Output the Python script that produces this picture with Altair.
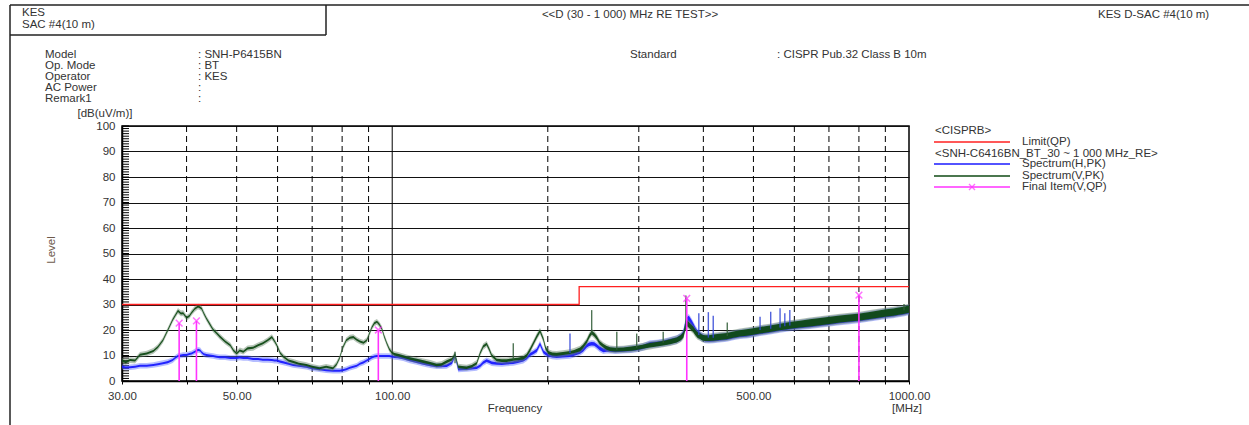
import altair as alt
import pandas as pd

# ---------------------------------------------------------------------------
# Measured data
# ---------------------------------------------------------------------------
# Sweep frequencies (MHz) with the peak trace centre for each antenna
# polarisation and the half-width of the trace noise band (dB).
FREQ_MHZ = [
    30.0, 30.5, 31.1, 31.8, 32.5, 33.5, 34.5, 35.2, 36.0, 36.8,
    37.6, 38.1, 38.5, 39.0, 39.4, 40.0, 40.5, 40.9, 41.5, 42.1,
    42.5, 42.8, 43.2, 43.7, 44.3, 45.0, 45.7, 46.4, 47.5, 48.6,
    49.3, 50.0, 50.7, 51.5, 52.5, 53.8, 55.0, 56.2, 57.4, 58.5,
    59.2, 59.8, 60.7, 61.6, 63.0, 64.3, 66.0, 68.2, 70.0, 72.3,
    74.5, 76.8, 78.0, 79.1, 80.2, 81.5, 82.8, 84.1, 85.4, 86.6,
    88.0, 89.3, 90.3, 91.3, 92.3, 93.4, 94.4, 95.5, 96.5, 97.6,
    98.7, 99.8, 101.0, 102.6, 105.0, 108.2, 111.5, 114.9, 118.5, 121.9,
    124.5, 127.5, 130.5, 132.3, 134.2, 136.5, 139.3, 142.5, 145.7, 148.0,
    150.0, 152.3, 154.0, 155.8, 159.3, 163.0, 166.5, 171.5, 175.0, 179.3,
    182.0, 184.8, 187.8, 190.4, 193.2, 196.1, 198.0, 200.5, 204.0, 208.1,
    214.0, 220.8, 225.0, 230.9, 234.0, 237.9, 240.5, 243.2, 246.0, 248.7,
    252.0, 256.1, 260.0, 263.9, 270.0, 280.0, 290.0, 297.2, 305.0, 315.3,
    325.0, 334.5, 345.0, 355.2, 362.0, 365.8, 369.0, 372.0, 375.0, 379.0,
    382.5, 386.0, 390.0, 394.1, 398.0, 403.0, 410.0, 418.3, 430.0, 444.0,
    457.0, 470.9, 485.0, 499.7, 514.8, 538.3, 562.8, 588.5, 615.3, 643.0,
    672.7, 703.0, 735.4, 768.0, 803.8, 840.0, 878.7, 905.0, 932.5, 955.0,
    974.8, 1000.0,
]
V_PK = [
    8.0, 7.4, 8.2, 8.0, 10.3, 10.8, 11.8, 13.3, 16.0, 20.0,
    24.0, 26.0, 27.5, 26.5, 26.6, 24.8, 25.5, 26.8, 28.3, 29.2,
    28.8, 28.3, 26.5, 24.5, 22.5, 20.2, 18.8, 17.4, 15.5, 14.0,
    12.0, 10.8, 12.0, 11.5, 12.8, 13.0, 14.0, 14.8, 16.0, 17.2,
    15.6, 14.0, 11.0, 9.5, 8.0, 7.5, 6.8, 6.3, 5.6, 5.0,
    5.6, 5.0, 6.5, 9.0, 13.0, 16.0, 17.0, 17.2, 16.2, 15.5,
    15.0, 16.0, 18.5, 21.0, 22.6, 23.2, 22.2, 20.5, 17.5, 14.8,
    12.5, 11.2, 10.5, 10.2, 9.6, 8.8, 8.2, 7.6, 7.0, 6.3,
    6.5, 7.6, 8.5, 10.5, 5.6, 5.4, 5.2, 5.8, 7.0, 11.0,
    13.5, 14.5, 12.5, 10.0, 8.2, 8.0, 8.0, 8.4, 8.6, 9.0,
    10.0, 12.2, 15.0, 17.4, 19.6, 16.4, 13.0, 11.2, 10.6, 10.5,
    10.8, 11.2, 11.6, 12.4, 13.5, 15.5, 17.5, 19.0, 18.2, 17.0,
    15.0, 13.8, 13.0, 12.5, 12.3, 12.4, 12.7, 13.0, 13.4, 14.0,
    14.4, 14.8, 15.4, 16.1, 17.0, 18.0, 21.0, 22.6, 22.0, 21.0,
    20.2, 19.0, 18.0, 17.6, 17.0, 16.8, 16.8, 17.0, 17.3, 17.6,
    18.2, 18.7, 19.0, 19.4, 19.9, 20.5, 21.2, 21.8, 22.3, 22.8,
    23.3, 23.8, 24.3, 24.7, 25.1, 25.7, 26.3, 26.7, 27.0, 27.4,
    27.7, 28.2,
]
H_PK = [
    5.6, 5.3, 5.4, 5.6, 6.0, 6.0, 6.3, 6.6, 7.0, 7.4,
    8.2, 9.2, 9.8, 10.0, 10.2, 10.2, 10.6, 10.8, 11.5, 12.2,
    12.0, 11.2, 10.5, 10.2, 10.0, 9.8, 9.5, 9.3, 9.3, 9.0,
    9.0, 9.0, 9.2, 9.0, 9.0, 8.6, 8.6, 8.3, 8.3, 8.2,
    8.0, 8.0, 7.6, 7.3, 6.8, 6.3, 6.0, 5.6, 5.0, 4.6,
    4.2, 4.0, 4.0, 4.0, 4.2, 4.6, 5.2, 5.6, 6.0, 6.8,
    7.3, 8.0, 8.6, 9.2, 9.6, 9.8, 9.8, 9.8, 9.8, 9.8,
    9.8, 9.6, 9.5, 9.4, 9.0, 8.2, 7.6, 6.9, 6.3, 5.9,
    5.9, 6.0, 7.2, 10.0, 4.6, 4.7, 4.8, 5.0, 5.2, 6.0,
    7.2, 8.0, 7.6, 7.1, 6.9, 6.8, 7.0, 7.2, 7.6, 8.2,
    9.0, 10.4, 11.2, 12.0, 14.5, 11.5, 10.8, 10.2, 9.8, 9.6,
    9.8, 10.0, 10.5, 11.4, 12.2, 13.8, 14.4, 14.6, 14.5, 13.8,
    12.8, 12.0, 12.2, 12.2, 12.0, 12.2, 12.5, 12.8, 13.3, 14.4,
    14.6, 15.0, 15.6, 16.2, 17.2, 18.5, 22.0, 24.0, 24.5, 23.0,
    21.5, 20.0, 18.6, 17.8, 17.2, 16.6, 16.5, 16.7, 17.0, 17.3,
    17.9, 18.4, 18.7, 19.1, 19.6, 20.2, 20.9, 21.5, 22.0, 22.5,
    23.0, 23.5, 24.0, 24.4, 24.8, 25.4, 26.0, 26.4, 26.7, 27.1,
    27.4, 27.9,
]
NOISE_DB = [
    0.4, 0.4, 0.4, 0.4, 0.4, 0.4, 0.4, 0.4, 0.4, 0.4,
    0.4, 0.4, 0.4, 0.4, 0.4, 0.4, 0.4, 0.4, 0.4, 0.4,
    0.4, 0.4, 0.4, 0.4, 0.4, 0.4, 0.4, 0.4, 0.4, 0.4,
    0.4, 0.4, 0.4, 0.4, 0.4, 0.4, 0.4, 0.4, 0.4, 0.4,
    0.4, 0.4, 0.4, 0.4, 0.4, 0.4, 0.4, 0.4, 0.4, 0.4,
    0.4, 0.4, 0.4, 0.4, 0.4, 0.4, 0.4, 0.4, 0.4, 0.4,
    0.4, 0.4, 0.4, 0.4, 0.4, 0.4, 0.4, 0.4, 0.4, 0.4,
    0.4, 0.4, 0.5, 0.5, 0.5, 0.5, 0.5, 0.5, 0.5, 0.5,
    0.5, 0.5, 0.5, 0.5, 0.5, 0.5, 0.5, 0.5, 0.5, 0.5,
    0.5, 0.5, 0.5, 0.5, 0.5, 0.5, 0.5, 0.5, 0.5, 0.6,
    0.6, 0.6, 0.6, 0.6, 0.6, 0.6, 0.6, 0.6, 0.6, 0.6,
    0.6, 0.6, 0.6, 0.7, 0.7, 0.7, 0.7, 0.7, 0.7, 0.7,
    0.7, 0.7, 0.7, 0.7, 0.7, 0.7, 0.8, 0.8, 0.8, 0.9,
    0.9, 0.9, 1.0, 1.0, 1.0, 1.0, 1.1, 1.1, 1.1, 1.1,
    1.1, 1.1, 1.1, 1.1, 1.1, 1.1, 1.1, 1.2, 1.2, 1.2,
    1.2, 1.2, 1.3, 1.3, 1.3, 1.3, 1.3, 1.3, 1.3, 1.4,
    1.4, 1.4, 1.4, 1.4, 1.4, 1.4, 1.4, 1.4, 1.4, 1.4,
    1.4, 1.4,
]
FUZZ_DB = 0.7   # extra width of the faint outer edge of each trace

# Narrow-band emissions standing above the noise floor
SPIKE_FREQ = [132.3, 171.5, 220.8, 243.2, 272.0, 297.2, 334.5, 370.0, 392.0,
              409.0, 418.0, 445.0, 515.0, 540.0, 563.0, 575.0, 588.0, 978.0]
SPIKE_BASE = [7.0, 8.4, 11.0, 18.0, 12.3, 13.0, 15.0, 20.0, 18.0,
              17.0, 17.0, 17.6, 20.0, 20.5, 21.0, 21.5, 21.8, 27.7]
SPIKE_PEAK = [11.5, 14.8, 18.6, 27.8, 19.3, 18.6, 19.3, 33.5, 26.6,
              27.0, 25.6, 22.9, 25.2, 27.2, 28.5, 26.6, 27.8, 30.2]
SPIKE_POL = ["V", "V", "H", "V", "V", "V", "V", "V", "H",
             "H", "H", "V", "H", "H", "H", "H", "H", "V"]

# Final quasi-peak measurements (vertical polarisation)
FINAL_FREQ = [38.7, 41.8, 94.0, 371.5, 800.0]
FINAL_QP = [22.7, 23.6, 20.0, 32.4, 33.7]

# CISPR 32 Class B, 10 m quasi-peak limit
LIMIT_FREQ = [30.0, 230.0, 230.0, 1000.0]
LIMIT_QP = [30.0, 30.0, 37.0, 37.0]

# Axis furniture
X_TICKS = [30, 40, 50, 60, 70, 80, 90, 100, 200, 300, 400, 500, 600, 700, 800, 900, 1000]
X_LABELED = [30, 50, 100, 500, 1000]
DASHED_GRID = [40, 50, 60, 70, 80, 90, 200, 300, 400, 500, 600, 700, 800, 900]
SOLID_GRID = [100]
Y_TICKS = [0, 10, 20, 30, 40, 50, 60, 70, 80, 90, 100]
Y_MINOR = list(range(0, 101))

# ---------------------------------------------------------------------------
# Page geometry (pixels)
# ---------------------------------------------------------------------------
PAGE_W, PAGE_H = 1249, 425
X0, Y0 = 122, 126          # plot-area origin on the page
PW, PH = 787, 255          # plot-area size

FONT = "Liberation Sans"
TXT = "#333333"
BLUE = "#1a1aff"
GREEN = "#0f4a14"
RED = "#ff2020"
MAGENTA = "#ff33ff"

xscale = alt.Scale(type="log", domain=[30, 1000], nice=False, zero=False)
yscale = alt.Scale(domain=[0, 100], nice=False, zero=False)

x_axis = alt.Axis(
    values=X_TICKS,
    labelExpr="indexof(%s, datum.value) >= 0 ? format(datum.value, '.2f') : ''" % X_LABELED,
    labelFont=FONT, labelFontSize=11.5, labelColor=TXT, labelPadding=6,
    labelFlush=False, labelOverlap=False,
    tickSize=3, tickColor="#000", domainColor="#000", domainWidth=1.5,
    grid=False, title=None,
)
y_axis = alt.Axis(
    values=Y_TICKS, format="d",
    labelFont=FONT, labelFontSize=11.5, labelColor=TXT, labelPadding=7,
    tickSize=0, domainColor="#000", domainWidth=1.5,
    grid=True, gridColor="#111", gridWidth=1, title=None,
)


def X(field):
    return alt.X(field, type="quantitative", scale=xscale, axis=x_axis)


def Y(field):
    return alt.Y(field, type="quantitative", scale=yscale, axis=y_axis)


# ---------------------------------------------------------------------------
# Tables
# ---------------------------------------------------------------------------
trace = pd.DataFrame({"freq": FREQ_MHZ, "v": V_PK, "h": H_PK, "n": NOISE_DB})


def band(col, extra=0.0):
    w = trace.n + extra
    return pd.DataFrame({"freq": trace.freq, "lo": trace[col] - w, "hi": trace[col] + w})


spikes = pd.DataFrame({"freq": SPIKE_FREQ, "base": SPIKE_BASE, "peak": SPIKE_PEAK, "pol": SPIKE_POL})
finals = pd.DataFrame({"freq": FINAL_FREQ, "level": FINAL_QP, "zero": [0.0] * len(FINAL_FREQ)})
limit = pd.DataFrame({"freq": LIMIT_FREQ, "level": LIMIT_QP, "idx": list(range(len(LIMIT_FREQ)))})

# ---------------------------------------------------------------------------
# Plot layers
# ---------------------------------------------------------------------------
vgrid_dash = alt.Chart(pd.DataFrame({"freq": DASHED_GRID})).mark_rule(
    color="#000", strokeWidth=1, strokeDash=[6, 4]
).encode(x=X("freq"))

vgrid_solid = alt.Chart(pd.DataFrame({"freq": SOLID_GRID})).mark_rule(
    color="#000", strokeWidth=1
).encode(x=X("freq"))

minor_ticks = alt.Chart(pd.DataFrame({"level": Y_MINOR})).mark_rule(
    color="#000", strokeWidth=1
).encode(x=alt.value(0), x2=alt.value(7), y=Y("level"))


def area(df, color, opacity):
    return alt.Chart(df).mark_area(color=color, opacity=opacity, clip=True).encode(
        x=X("freq"), y=Y("lo"), y2="hi"
    )


h_fuzz = area(band("h", FUZZ_DB), "#5a6cff", 0.45)
h_core = area(band("h"), BLUE, 0.95)
v_fuzz = area(band("v", FUZZ_DB), "#5f7f62", 0.45)
v_core = area(band("v"), GREEN, 0.95)

spike_rules = alt.Chart(spikes).mark_rule(strokeWidth=1.4, opacity=0.85).encode(
    x=X("freq"), y=Y("base"), y2="peak",
    color=alt.Color("pol:N", scale=alt.Scale(domain=["H", "V"], range=["#3346d6", "#2f5c36"]), legend=None),
)

limit_line = alt.Chart(limit).mark_line(color=RED, strokeWidth=1.3, interpolate="linear").encode(
    x=X("freq"), y=Y("level"), order="idx"
)

X_SHAPE = "M-1,-1L1,1M1,-1L-1,1"
final_rules = alt.Chart(finals).mark_rule(color=MAGENTA, strokeWidth=1.6).encode(
    x=X("freq"), y=Y("zero"), y2="level"
)
final_marks = alt.Chart(finals).mark_point(
    shape=X_SHAPE, filled=False, color=MAGENTA, size=45, strokeWidth=1.5
).encode(x=X("freq"), y=Y("level"))


# ---------------------------------------------------------------------------
# Page annotations (positions in page pixels)
# ---------------------------------------------------------------------------
def text(s, x, y, align="left", size=11.5, color=TXT, angle=0):
    return alt.Chart(pd.DataFrame({"t": [s]})).mark_text(
        align=align, baseline="middle", font=FONT, fontSize=size, color=color, angle=angle
    ).encode(x=alt.value(x - X0), y=alt.value(y - Y0), text="t:N")


def hline(x1, x2, y, color="#222", width=1.5):
    return alt.Chart(pd.DataFrame({"a": [0]})).mark_rule(color=color, strokeWidth=width).encode(
        x=alt.value(x1 - X0), x2=alt.value(x2 - X0), y=alt.value(y - Y0)
    )


def vline(x, y1, y2, color="#222", width=1.5):
    return alt.Chart(pd.DataFrame({"a": [0]})).mark_rule(color=color, strokeWidth=width).encode(
        x=alt.value(x - X0), y=alt.value(y1 - Y0), y2=alt.value(y2 - Y0)
    )


frame = [
    hline(10, PAGE_W, 5),
    vline(10, 5, PAGE_H),
    vline(326, 5, 35),
    hline(10, 326, 35),
]

header = [
    text("KES", 22, 13),
    text("SAC #4(10 m)", 22, 25),
    text("<<D (30 - 1 000) MHz RE TEST>>", 630, 15, align="center"),
    text("KES D-SAC #4(10 m)", 1098, 15),
    text("Model", 45, 55),
    text("Op. Mode", 45, 66),
    text("Operator", 45, 77),
    text("AC Power", 45, 88),
    text("Remark1", 45, 99),
    text(": SNH-P6415BN", 198, 55),
    text(": BT", 198, 66),
    text(": KES", 198, 77),
    text(":", 198, 88),
    text(":", 198, 99),
    text("Standard", 630, 55),
    text(": CISPR Pub.32 Class B 10m", 777, 55),
]

axis_text = [
    text("[dB(uV/m)]", 105, 114, align="center"),
    text("Level", 52, 250, align="center", color="#6e5a4c", angle=270),
    text("Frequency", 515, 409, align="center"),
    text("[MHz]", 907, 409, align="center"),
]

legend = [
    text("<CISPRB>", 935, 131),
    hline(934, 1010, 142, color=RED, width=1.3),
    text("Limit(QP)", 1022, 142),
    text("<SNH-C6416BN_BT_30 ~ 1 000 MHz_RE>", 935, 154),
    hline(934, 1010, 164, color=BLUE, width=1.3),
    text("Spectrum(H,PK)", 1022, 164),
    hline(934, 1010, 176, color=GREEN, width=1.3),
    text("Spectrum(V,PK)", 1022, 176),
    hline(934, 1010, 187, color=MAGENTA, width=1.3),
    alt.Chart(pd.DataFrame({"a": [0]})).mark_point(
        shape=X_SHAPE, filled=False, color=MAGENTA, size=36, strokeWidth=1.4
    ).encode(x=alt.value(972 - X0), y=alt.value(187 - Y0)),
    text("Final Item(V,QP)", 1022, 187),
]

chart = alt.layer(
    vgrid_dash, vgrid_solid, minor_ticks,
    h_fuzz, h_core, v_fuzz, v_core, spike_rules, limit_line,
    final_rules, final_marks,
    *frame, *header, *axis_text, *legend,
).properties(
    width=PW, height=PH,
    padding={"left": X0, "top": Y0, "right": PAGE_W - X0 - PW, "bottom": PAGE_H - Y0 - PH},
    autosize=alt.AutoSizeParams(type="none"),
    background="white",
).configure_view(stroke="#000", strokeWidth=1.5)

chart.save("out.html", embed_options={"renderer": "svg", "actions": False})
